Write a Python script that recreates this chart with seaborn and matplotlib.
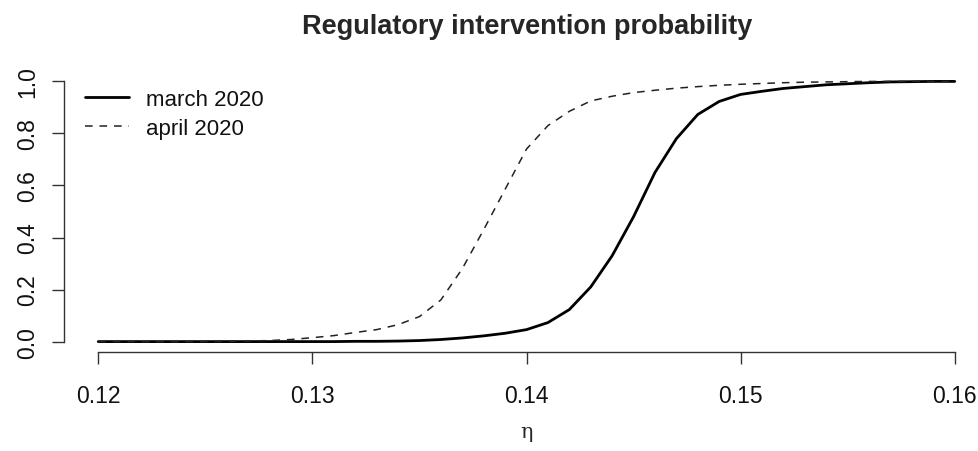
import numpy as np
import pandas as pd
import matplotlib
matplotlib.use("Agg")
import matplotlib.pyplot as plt
import seaborn as sns

eta = [0.120, 0.121, 0.122, 0.123, 0.124, 0.125, 0.126, 0.127, 0.128, 0.129,
       0.130, 0.131, 0.132, 0.133, 0.134, 0.135, 0.136, 0.137, 0.138, 0.139,
       0.140, 0.141, 0.142, 0.143, 0.144, 0.145, 0.146, 0.147, 0.148, 0.149,
       0.150, 0.151, 0.152, 0.153, 0.154, 0.155, 0.156, 0.157, 0.158, 0.159, 0.160]
march = [0.0, 0.0, 0.0, 0.0, 0.0, 0.0, 0.0, 0.0, 0.0, 0.0,
         0.0, 0.0, 0.001, 0.001, 0.002, 0.004, 0.008, 0.014, 0.022, 0.032,
         0.046, 0.073, 0.123, 0.21, 0.33, 0.48, 0.65, 0.78, 0.873, 0.923,
         0.95, 0.962, 0.973, 0.98, 0.987, 0.991, 0.995, 0.998, 0.999, 1.0, 1.0]
april = [0.0, 0.0, 0.0, 0.0, 0.0, 0.0, 0.001, 0.002, 0.004, 0.008,
         0.015, 0.023, 0.035, 0.046, 0.065, 0.096, 0.16, 0.28, 0.43, 0.585,
         0.74, 0.83, 0.885, 0.925, 0.943, 0.957, 0.966, 0.974, 0.98, 0.985,
         0.989, 0.992, 0.995, 0.997, 0.998, 0.999, 1.0, 1.0, 1.0, 1.0, 1.0]
series_names = ["march 2020", "april 2020"]
x_ticks = [0.12, 0.13, 0.14, 0.15, 0.16]
y_ticks = [0.0, 0.2, 0.4, 0.6, 0.8, 1.0]

sns.set_style("white")
plt.rcParams['font.family'] = ['Liberation Sans', 'DejaVu Sans']

W, H = 979, 452
fig = plt.figure(figsize=(W / 100, H / 100), dpi=100)
# plot region in pixels: left 64, right 989, top 72, bottom 353
l, r, t, b = 64, 989, 72, 353
ax = fig.add_axes([l / W, 1 - b / H, (r - l) / W, (b - t) / H])

df_m = pd.DataFrame({"eta": eta, "p": march})
df_a = pd.DataFrame({"eta": eta, "p": april})
sns.lineplot(data=df_m, x="eta", y="p", ax=ax, color="black", lw=2.0,
             label=series_names[0])
sns.lineplot(data=df_a, x="eta", y="p", ax=ax, color="#222222", lw=1.1,
             dashes=False, label=series_names[1])
ax.lines[1].set_dashes([5, 4.5])

ax.set_xlim(0.1184, 0.1616)
ax.set_ylim(-0.04, 1.04)
ax.set_xticks(x_ticks)
ax.set_xticklabels([f"{v:.2f}" for v in x_ticks])
ax.set_yticks(y_ticks)
ax.set_yticklabels([f"{v:.1f}" for v in y_ticks], rotation=90, va="center")

for s in ["top", "right"]:
    ax.spines[s].set_visible(False)
ax.spines["left"].set_bounds(0, 1)
ax.spines["bottom"].set_bounds(0.12, 0.16)
for s in ["left", "bottom"]:
    ax.spines[s].set_color("#333333")
    ax.spines[s].set_linewidth(1.0)
ax.tick_params(axis="both", direction="out", length=8.6, width=1.0,
               bottom=True, left=True,
               color="#333333", labelsize=16.5, labelcolor="#111111")
ax.tick_params(axis="x", pad=14.4)
ax.tick_params(axis="y", pad=9.4)

ax.set_xlabel("η", fontsize=15, family=["DejaVu Serif"], labelpad=11)
ax.set_ylabel("")
ax.set_title("Regulatory intervention probability", fontsize=19.5,
             fontweight="bold", pad=27, x=(527 - l) / (r - l))

leg = ax.legend(loc="upper left", frameon=False, fontsize=16,
                handlelength=2.0, handletextpad=0.77, labelspacing=0.36,
                bbox_to_anchor=((76 - l) / (r - l), (b - 81) / (b - t)),
                borderaxespad=0)
for txt in leg.get_texts():
    txt.set_color("#111111")

fig.savefig("out.png", dpi=100, facecolor="white")
